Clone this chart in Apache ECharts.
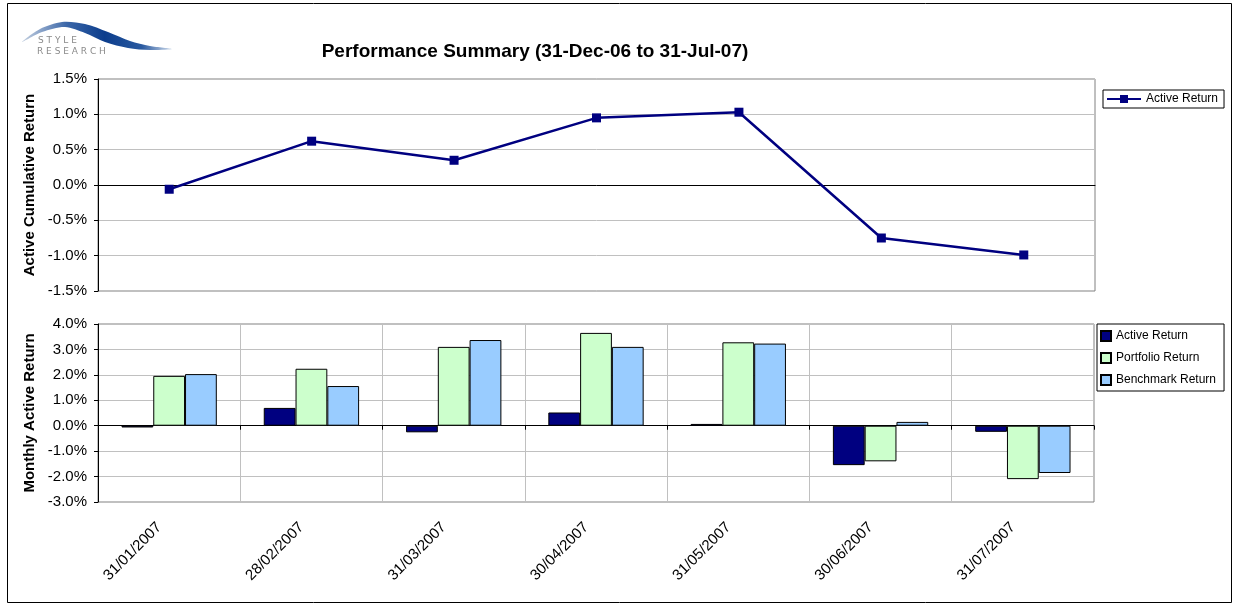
<!DOCTYPE html>
<html>
<head>
<meta charset="utf-8">
<script src="https://cdn.jsdelivr.net/npm/echarts@6/dist/echarts.min.js"></script>
<style>
html,body{margin:0;padding:0;background:#fff;}
#chart{width:1234px;height:605px;}
</style>
</head>
<body>
<div id="chart"></div>
<script>
const categories = ['31/01/2007','28/02/2007','31/03/2007','30/04/2007','31/05/2007','30/06/2007','31/07/2007'];
const cumulativeActive = [-0.06, 0.62, 0.35, 0.95, 1.03, -0.75, -0.99];
const monthlyActive = [-0.07, 0.70, -0.26, 0.52, 0.07, -1.55, -0.24];
const portfolioReturn = [1.96, 2.24, 3.10, 3.65, 3.28, -1.40, -2.10];
const benchmarkReturn = [2.03, 1.56, 3.37, 3.10, 3.23, 0.15, -1.86];
const titleText = 'Performance Summary (31-Dec-06 to 31-Jul-07)';

const FONT = '"Liberation Sans", Arial, sans-serif';
const pct = v => v.toFixed(1) + '%';

const chart = echarts.init(document.getElementById('chart'), null, {renderer: 'canvas'});

const swooshFill = {
  type: 'linear', x: 0, y: 0, x2: 1, y2: 0,
  colorStops: [
    {offset: 0, color: '#c4d0e0'}, {offset: 0.3, color: '#3a66a8'},
    {offset: 0.55, color: '#0c3d8c'}, {offset: 0.8, color: '#2a5aa0'}, {offset: 1, color: '#d0dcec'}]
};

const option = {
  animation: false,
  backgroundColor: '#fff',
  textStyle: {fontFamily: FONT},
  title: {
    text: titleText,
    left: 530, top: 37, textAlign: 'center',
    textStyle: {fontFamily: FONT, fontSize: 19, fontWeight: 'bold', color: '#000'}
  },
  graphic: [
    {type: 'rect', shape: {x: 7.5, y: 3.5, width: 1224, height: 599},
     style: {fill: 'none', stroke: '#000', lineWidth: 1}, silent: true},
    {type: 'polygon', silent: true,
     shape: {points: [[22,42],[40,29],[62,22],[85,24],[108,32],[130,41],[150,46],[172,49],[150,50],[128,48],[105,42],[85,33],[65,27],[42,32]], smooth: 0.3},
     style: {fill: swooshFill}},
    {type: 'text', left: 38, top: 36, silent: true,
     style: {text: 'S T Y L E', font: '9px "DejaVu Sans", sans-serif', fill: '#8a8a8a'}},
    {type: 'text', left: 37, top: 47, silent: true,
     style: {text: 'R E S E A R C H', font: '9px "DejaVu Sans", sans-serif', fill: '#8a8a8a'}}
  ],
  legend: [
    {
      data: ['Active Return'],
      left: 1103, top: 90,
      orient: 'vertical',
      backgroundColor: '#fff',
      borderColor: '#000', borderWidth: 1,
      padding: [3, 6, 3, 3],
      itemWidth: 34, itemHeight: 10,
      textStyle: {fontFamily: FONT, fontSize: 12, color: '#000'},
      selectedMode: false
    },
    {
      data: ['Active Return ', 'Portfolio Return', 'Benchmark Return'],
      left: 1097, top: 324,
      orient: 'vertical',
      backgroundColor: '#fff',
      borderColor: '#000', borderWidth: 1,
      padding: [6, 8, 5, 3],
      itemGap: 10, itemWidth: 10, itemHeight: 10,
      icon: 'rect',
      textStyle: {fontFamily: FONT, fontSize: 12, color: '#000'},
      selectedMode: false
    }
  ],
  grid: [
    {left: 98, right: 139, top: 79, height: 212, show: true, borderColor: '#808080', borderWidth: 1, backgroundColor: 'transparent'},
    {left: 98, right: 140, top: 324, height: 178, show: true, borderColor: '#808080', borderWidth: 1, backgroundColor: 'transparent'}
  ],
  xAxis: [
    {gridIndex: 0, type: 'category', data: categories, boundaryGap: true,
     axisLine: {onZero: true, lineStyle: {color: '#000', width: 1}},
     axisTick: {show: false}, axisLabel: {show: false}, splitLine: {show: false}},
    {gridIndex: 1, type: 'category', data: categories, boundaryGap: true, position: 'bottom',
     axisLine: {show: false, onZero: false}, axisTick: {show: false},
     axisLabel: {rotate: 45, margin: 13, padding: [0, 14, 0, 0], fontFamily: FONT, fontSize: 15, color: '#000', interval: 0},
     splitLine: {show: true, lineStyle: {color: '#c0c0c0', width: 1}}},
    {gridIndex: 1, type: 'category', data: categories, boundaryGap: true, position: 'bottom',
     axisLine: {show: true, onZero: true, lineStyle: {color: '#000', width: 1}},
     axisTick: {show: true, length: 4, interval: 0, lineStyle: {color: '#000'}},
     axisLabel: {show: false}, splitLine: {show: false}}
  ],
  yAxis: [
    {gridIndex: 0, type: 'value', min: -1.5, max: 1.5, interval: 0.5,
     name: 'Active Cumulative Return', nameLocation: 'middle', nameGap: 57,
     nameTextStyle: {fontFamily: FONT, fontSize: 15, fontWeight: 'bold', color: '#000'},
     axisLine: {show: true, lineStyle: {color: '#000'}},
     axisTick: {show: true, length: 4, lineStyle: {color: '#000'}},
     axisLabel: {formatter: pct, fontFamily: FONT, fontSize: 15, color: '#000', margin: 11},
     splitLine: {show: true, lineStyle: {color: '#c0c0c0', width: 1}}},
    {gridIndex: 1, type: 'value', min: -3, max: 4, interval: 1,
     name: 'Monthly Active Return', nameLocation: 'middle', nameGap: 57,
     nameTextStyle: {fontFamily: FONT, fontSize: 15, fontWeight: 'bold', color: '#000'},
     axisLine: {show: true, lineStyle: {color: '#000'}},
     axisTick: {show: true, length: 4, lineStyle: {color: '#000'}},
     axisLabel: {formatter: pct, fontFamily: FONT, fontSize: 15, color: '#000', margin: 11},
     splitLine: {show: true, lineStyle: {color: '#c0c0c0', width: 1}}}
  ],
  series: [
    {name: 'Active Return', type: 'line', xAxisIndex: 0, yAxisIndex: 0,
     data: cumulativeActive, symbol: 'rect', symbolSize: 9,
     lineStyle: {color: '#000080', width: 2.5}, itemStyle: {color: '#000080'}},
    {name: 'Active Return ', type: 'bar', xAxisIndex: 1, yAxisIndex: 1,
     data: monthlyActive, barGap: '0%', barCategoryGap: '33%',
     itemStyle: {color: '#000080', borderColor: '#000', borderWidth: 1}},
    {name: 'Portfolio Return', type: 'bar', xAxisIndex: 1, yAxisIndex: 1,
     data: portfolioReturn, barGap: '0%', barCategoryGap: '33%',
     itemStyle: {color: '#ccffcc', borderColor: '#000', borderWidth: 1}},
    {name: 'Benchmark Return', type: 'bar', xAxisIndex: 1, yAxisIndex: 1,
     data: benchmarkReturn, barGap: '0%', barCategoryGap: '33%',
     itemStyle: {color: '#99ccff', borderColor: '#000', borderWidth: 1}}
  ]
};
chart.setOption(option);
</script>
</body>
</html>
